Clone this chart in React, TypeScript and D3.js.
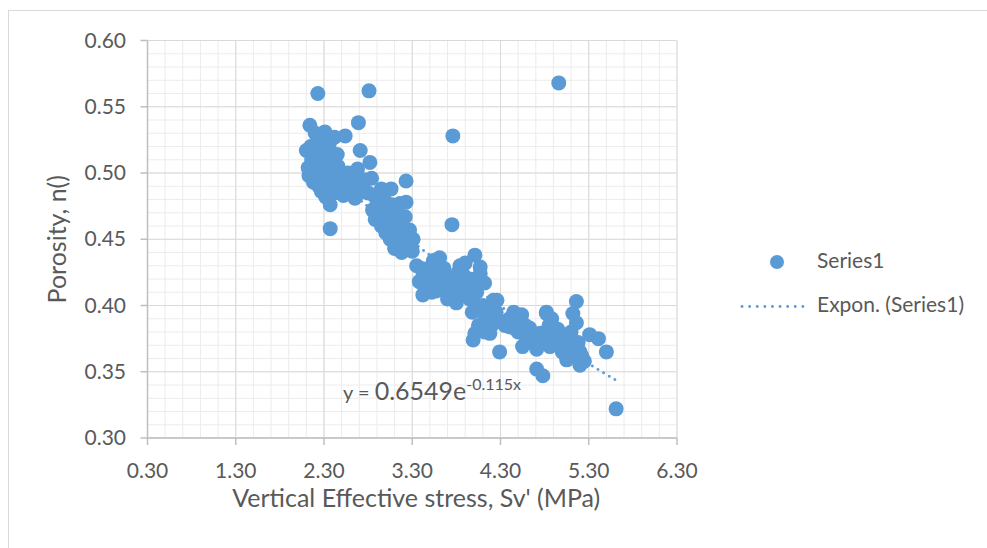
import React from 'react';
import * as d3 from 'd3';

// Vertical effective stress Sv' (MPa)
const stress = [
  2.23, 2.81, 2.14, 2.69, 2.31, 2.54, 2.42, 2.20, 2.36, 2.10, 2.71, 2.16, 2.82, 2.35, 2.12, 2.46, 2.20, 2.57, 2.84, 2.31,
  2.54, 2.73, 2.37, 2.65, 2.88, 2.37, 2.88, 2.18, 2.25, 2.28, 2.40, 2.50, 2.45, 2.60, 2.62, 2.68, 2.76, 2.80, 2.27, 2.33,
  2.15, 2.22, 2.39, 2.48, 2.70, 2.95, 2.92, 2.97, 2.85,
  2.13, 2.18, 2.24, 2.29, 2.32, 2.26, 2.34, 2.42, 2.52, 2.58, 2.65, 2.75, 2.30, 2.44,
  3.07, 3.10, 3.18, 3.16, 3.01, 3.27, 3.05, 3.20, 3.31, 3.23, 3.23, 2.95, 3.00, 3.08, 3.12, 3.15, 3.25, 3.02, 2.93, 3.06,
  2.98, 3.13, 3.22, 3.28, 3.18, 3.10,
  2.90, 2.96, 3.03, 3.14, 3.20, 3.26, 3.09, 2.99, 3.30,
  3.35, 3.54, 3.61, 3.42, 3.69, 3.84, 4.01, 4.07, 3.42, 3.57, 3.80, 3.99, 4.07, 3.40, 3.45, 3.50, 3.48, 3.58, 3.63, 3.66,
  3.72, 3.76, 3.85, 3.88, 3.92, 3.95, 3.70, 3.52, 3.38, 3.60, 3.90, 4.03, 4.10, 3.98, 3.82, 3.75, 3.91,
  3.45, 3.55, 3.65, 3.78, 3.86, 3.95, 4.05,
  4.01, 3.99, 4.14, 4.07, 4.22, 4.29, 4.05, 4.10, 4.18, 4.25, 4.20, 4.12, 4.12, 4.26, 4.18,
  4.15, 4.30, 4.45, 4.62, 4.80, 4.95, 5.10, 5.18,
  4.54, 4.46, 4.63, 4.82, 4.75, 4.90, 4.71, 4.71, 4.78, 4.86, 5.16, 5.12, 5.16, 4.82, 5.31, 5.41, 5.50, 4.95, 5.16, 5.05,
  5.20, 5.61, 4.40, 4.50, 4.58, 4.68, 4.72, 4.85, 4.92, 4.98, 5.00, 5.08, 5.10, 5.20, 5.22, 4.35, 4.45, 5.02, 5.14, 4.88,
  4.52, 4.59, 4.55, 4.40, 5.25,
  4.96, 3.76, 3.75,
];

// Porosity n()
const porosity = [
  0.560, 0.562, 0.536, 0.538, 0.531, 0.528, 0.527, 0.530, 0.522, 0.517, 0.517, 0.510, 0.508, 0.509, 0.504, 0.505, 0.495, 0.500, 0.496, 0.490,
  0.487, 0.490, 0.476, 0.481, 0.482, 0.458, 0.465, 0.493, 0.500, 0.515, 0.497, 0.493, 0.514, 0.488, 0.497, 0.503, 0.495, 0.485, 0.486, 0.503,
  0.520, 0.512, 0.488, 0.499, 0.485, 0.488, 0.478, 0.473, 0.472,
  0.498, 0.505, 0.490, 0.498, 0.482, 0.523, 0.515, 0.485, 0.483, 0.492, 0.494, 0.488, 0.508, 0.492,
  0.476, 0.470, 0.460, 0.477, 0.470, 0.457, 0.450, 0.445, 0.450, 0.494, 0.478, 0.460, 0.455, 0.462, 0.452, 0.447, 0.442, 0.465, 0.468, 0.488,
  0.480, 0.468, 0.467, 0.445, 0.440, 0.443,
  0.474, 0.465, 0.460, 0.458, 0.452, 0.450, 0.455, 0.468, 0.441,
  0.430, 0.434, 0.436, 0.422, 0.422, 0.430, 0.438, 0.429, 0.408, 0.411, 0.402, 0.404, 0.417, 0.428, 0.415, 0.420, 0.428, 0.425, 0.418, 0.428,
  0.414, 0.410, 0.418, 0.423, 0.412, 0.420, 0.405, 0.410, 0.418, 0.432, 0.432, 0.410, 0.400, 0.395, 0.425, 0.420, 0.414,
  0.425, 0.415, 0.412, 0.415, 0.408, 0.405, 0.398,
  0.379, 0.374, 0.389, 0.424, 0.404, 0.365, 0.385, 0.395, 0.398, 0.395, 0.385, 0.380, 0.417, 0.404, 0.379,
  0.392, 0.388, 0.383, 0.377, 0.375, 0.370, 0.365, 0.372,
  0.393, 0.387, 0.383, 0.395, 0.379, 0.379, 0.367, 0.352, 0.347, 0.369, 0.403, 0.394, 0.387, 0.394, 0.378, 0.375, 0.365, 0.382, 0.369, 0.359,
  0.355, 0.322, 0.390, 0.380, 0.385, 0.378, 0.372, 0.385, 0.372, 0.375, 0.365, 0.370, 0.380, 0.365, 0.362, 0.385, 0.395, 0.378, 0.362, 0.390,
  0.382, 0.372, 0.369, 0.384, 0.358,
  0.568, 0.528, 0.461,
];

const xTicks = [0.3, 1.3, 2.3, 3.3, 4.3, 5.3, 6.3];
const yTicks = [0.3, 0.35, 0.4, 0.45, 0.5, 0.55, 0.6];
const trendA = 0.6549;
const trendB = -0.115;

const BLUE = '#5b9bd5';
const TEXT = '#595959';
const FONT = "Lato, 'Open Sans', sans-serif";

export default function App() {
  const W = 987;
  const H = 548;
  const x = d3.scaleLinear().domain([0.3, 6.3]).range([147.5, 677]);
  const y = d3.scaleLinear().domain([0.3, 0.6]).range([438, 40.5]);

  const xMinor = d3.range(0, 31).map((i) => 0.3 + i * 0.2);
  const yMinor = d3.range(0, 31).map((i) => 0.3 + i * 0.01);

  const xmin = d3.min(stress) as number;
  const xmax = d3.max(stress) as number;
  const trendPts: [number, number][] = d3
    .range(0, 101)
    .map((i) => xmin + ((xmax - xmin) * i) / 100)
    .map((v) => [v, trendA * Math.exp(trendB * v)]);
  const line = d3
    .line<[number, number]>()
    .x((d) => x(d[0]))
    .y((d) => y(d[1]));

  const [x0, x1] = x.range();
  const [y0, y1] = [y(0.6), y(0.3)];

  return (
    <svg
      width={W}
      height={H}
      style={{ position: 'absolute', left: 0, top: 0, background: '#fff' }}
      fontFamily={FONT}
    >
      <rect x={0} y={0} width={W} height={H} fill="#fff" />
      {/* chart border */}
      <rect x={8.5} y={10.5} width={W + 20} height={H + 20} fill="none" stroke="#d9d9d9" strokeWidth={1} />

      {/* minor gridlines */}
      {xMinor.map((v, i) => (
        <line key={'xm' + i} x1={x(v)} x2={x(v)} y1={y0} y2={y1} stroke="#ececec" strokeWidth={1} />
      ))}
      {yMinor.map((v, i) => (
        <line key={'ym' + i} x1={x0} x2={x1} y1={y(v)} y2={y(v)} stroke="#ececec" strokeWidth={1} />
      ))}
      {/* major gridlines */}
      {xTicks.map((v, i) => (
        <line key={'xM' + i} x1={x(v)} x2={x(v)} y1={y0} y2={y1} stroke="#d9d9d9" strokeWidth={1} />
      ))}
      {yTicks.map((v, i) => (
        <line key={'yM' + i} x1={x0} x2={x1} y1={y(v)} y2={y(v)} stroke="#d9d9d9" strokeWidth={1} />
      ))}

      {/* axes */}
      <line x1={x0} x2={x0} y1={y0} y2={y1} stroke="#bfbfbf" strokeWidth={1.5} />
      <line x1={x0} x2={x1} y1={y1} y2={y1} stroke="#bfbfbf" strokeWidth={1.5} />
      {xTicks.map((v, i) => (
        <line key={'xt' + i} x1={x(v)} x2={x(v)} y1={y1} y2={y1 + 7} stroke="#bfbfbf" strokeWidth={1.5} />
      ))}
      {yTicks.map((v, i) => (
        <line key={'yt' + i} x1={x0 - 7} x2={x0} y1={y(v)} y2={y(v)} stroke="#bfbfbf" strokeWidth={1.5} />
      ))}

      {/* tick labels */}
      {xTicks.map((v, i) => (
        <text key={'xl' + i} x={x(v)} y={478} textAnchor="middle" fontSize={21} fill={TEXT}>
          {d3.format('.2f')(v)}
        </text>
      ))}
      {yTicks.map((v, i) => (
        <text key={'yl' + i} x={126} y={y(v) + 7} textAnchor="end" fontSize={21} fill={TEXT}>
          {d3.format('.2f')(v)}
        </text>
      ))}

      {/* axis titles */}
      <text x={(x0 + x1) / 2 + 4} y={507} textAnchor="middle" fontSize={25} fill={TEXT}>
        Vertical Effective stress, Sv' (MPa)
      </text>
      <text
        transform={`translate(66, ${(y0 + y1) / 2}) rotate(-90)`}
        textAnchor="middle"
        fontSize={25}
        fill={TEXT}
      >
        Porosity, n()
      </text>

      {/* points */}
      {stress.map((sv, i) => (
        <circle key={'p' + i} cx={x(sv)} cy={y(porosity[i])} r={7.5} fill={BLUE} />
      ))}

      {/* trendline */}
      <path
        d={line(trendPts) || ''}
        fill="none"
        stroke={BLUE}
        strokeWidth={2.8}
        strokeLinecap="round"
        strokeDasharray="0.1 6.5"
      />

      {/* equation */}
      <text x={343} y={400} fill={TEXT}>
        <tspan fontSize={20}>y = </tspan>
        <tspan fontSize={25}>0.6549e</tspan>
        <tspan fontSize={16} dy={-10}>-0.115x</tspan>
      </text>

      {/* legend */}
      <circle cx={777} cy={262} r={7} fill={BLUE} />
      <text x={817} y={268} fontSize={21} fill={TEXT}>Series1</text>
      <line
        x1={742}
        x2={803}
        y1={306.5}
        y2={306.5}
        stroke={BLUE}
        strokeWidth={2.8}
        strokeLinecap="round"
        strokeDasharray="0.1 7.5"
      />
      <text x={817} y={312} fontSize={21} fill={TEXT}>Expon. (Series1)</text>
    </svg>
  );
}
